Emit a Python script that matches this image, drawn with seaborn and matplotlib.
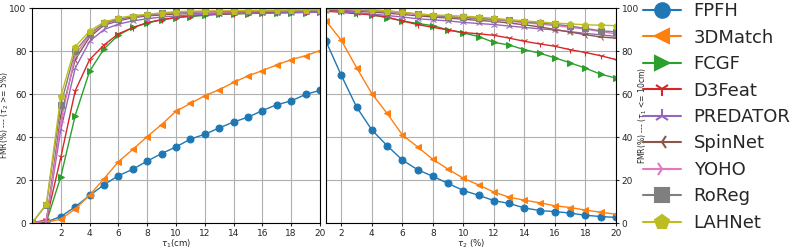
import numpy as np
import pandas as pd
import matplotlib
matplotlib.use("Agg")
import matplotlib.pyplot as plt
import seaborn as sns

# data
methods = ["FPFH", "3DMatch", "FCGF", "D3Feat", "PREDATOR", "SpinNet", "YOHO", "RoReg", "LAHNet"]
markers = ["o", "<", ">", "1", "2", "3", "4", "s", "p"]

tau1 = list(range(0, 21))
tau2 = list(range(1, 21))

fmr_tau1 = {
    "FPFH": [0, 0.5, 3, 7.5, 12.8, 17.8, 22, 25, 28.8, 32.3, 35.4, 39, 41.3, 44.2, 47, 49.2, 52.3, 55, 56.8, 59.8, 61.7],
    "3DMatch": [0, 0.3, 1.8, 6.5, 13, 20.6, 28.5, 34.2, 40.2, 45.8, 52, 55.6, 59.2, 62, 65.4, 68.4, 70.9, 73.5, 76, 77.8, 80.2],
    "FCGF": [0, 0.5, 21.5, 50, 70.6, 81, 87.4, 91, 93, 94.5, 95.5, 96, 96.6, 97, 97.2, 97.4, 97.6, 97.7, 97.8, 97.9, 98],
    "D3Feat": [0, 1.5, 30.5, 61.5, 76, 82.8, 88, 90.8, 93.2, 94.6, 95.6, 96.4, 96.8, 97.2, 97.4, 97.6, 97.8, 97.9, 98, 98.1, 98.2],
    "PREDATOR": [0, 1, 43.5, 72, 84.5, 90, 92.5, 94, 95, 95.8, 96.3, 96.7, 97, 97.3, 97.5, 97.6, 97.7, 97.8, 97.9, 98, 98],
    "SpinNet": [0, 1, 50, 76, 86.5, 92, 94, 95.5, 96.3, 96.8, 97.2, 97.5, 97.7, 97.9, 98, 98.1, 98.2, 98.3, 98.4, 98.5, 98.5],
    "YOHO": [0, 1, 47, 78, 87.5, 92.5, 94.5, 96, 96.7, 97.3, 97.6, 97.8, 98, 98.1, 98.2, 98.3, 98.4, 98.5, 98.6, 98.7, 98.8],
    "RoReg": [0, 8.5, 55, 80, 88, 93, 94.8, 96, 96.8, 97.5, 98, 98.2, 98.4, 98.5, 98.6, 98.7, 98.8, 98.8, 98.9, 99, 99],
    "LAHNet": [0, 8.8, 59, 82, 89.3, 93.5, 95.3, 96.5, 97, 97.8, 98.3, 98.5, 98.6, 98.7, 98.8, 98.9, 99, 99, 99.1, 99.1, 99.2],
}

fmr_tau2 = {
    "FPFH": [84.5, 68.7, 54, 43.3, 36, 29.3, 24.8, 21.7, 18.4, 15.1, 12.9, 10.4, 9.1, 7, 5.8, 5.3, 4.6, 3.6, 3, 2.6],
    "3DMatch": [94, 85, 72.3, 60.2, 51, 41, 35.4, 29.6, 25, 20.8, 17.7, 14.4, 12, 10.6, 9.4, 8, 7.2, 6, 5, 4.1],
    "FCGF": [99, 98.5, 97.8, 96.8, 95.5, 94, 92.8, 91.8, 89.8, 88.4, 86.7, 84, 82.8, 80.6, 79, 76.8, 74.5, 72, 69.2, 67.4],
    "D3Feat": [98.5, 98, 97.3, 96.8, 95.8, 94, 92.3, 91, 89.8, 88.6, 88, 87.3, 86, 84.5, 83.3, 82.2, 80.6, 79.3, 77.8, 76],
    "PREDATOR": [99, 98.3, 97.8, 97.2, 96.5, 95.8, 95, 94.5, 94, 93.3, 92.8, 92.3, 91.6, 91, 90.3, 89.8, 89, 88.2, 87.5, 86.8],
    "SpinNet": [99.2, 99, 98.5, 98.1, 97.6, 97, 96.4, 95.8, 95.3, 94.8, 94.2, 93.8, 93, 92.2, 91.2, 90, 88.8, 87.6, 86.5, 86],
    "YOHO": [99.5, 99.3, 99, 98.6, 98.2, 97.6, 97, 96.4, 95.8, 95.4, 95, 94.5, 93.8, 93.2, 92.5, 91.8, 91, 90.2, 89, 88],
    "RoReg": [99.8, 99.5, 99.3, 99, 98.6, 98, 97.2, 96.5, 96, 95.6, 95.2, 94.8, 94.2, 93.6, 93, 92.4, 91.6, 90.5, 89.4, 88.9],
    "LAHNet": [99.8, 99.6, 99.4, 99.2, 98.8, 98, 97.3, 96.8, 96.5, 96.2, 95.8, 95.2, 94.6, 94, 93.5, 93, 92.6, 92.2, 92, 91.8],
}

sns.set_theme(style="whitegrid", rc={
    "axes.edgecolor": "black",
    "axes.linewidth": 0.8,
    "grid.color": "#b0b0b0",
    "grid.linewidth": 0.8,
    "xtick.bottom": True,
    "ytick.left": True,
    "xtick.major.size": 2.5,
    "ytick.major.size": 2.5,
    "xtick.major.width": 0.8,
    "ytick.major.width": 0.8,
})
plt.rcParams["font.family"] = ["DejaVu Sans"]

palette = sns.color_palette("tab10", 9)

fig = plt.figure(figsize=(7.93, 2.49), dpi=100)
ax1 = fig.add_axes([32 / 793, 26 / 249, 288 / 793, 215 / 249])
ax2 = fig.add_axes([326 / 793, 26 / 249, 290 / 793, 215 / 249])

for i, m in enumerate(methods):
    sns.lineplot(x=tau1, y=fmr_tau1[m], ax=ax1, color=palette[i], marker=markers[i],
                 markersize=5, linewidth=1, markeredgecolor=palette[i], legend=False)
    sns.lineplot(x=tau2, y=fmr_tau2[m], ax=ax2, color=palette[i], marker=markers[i],
                 markersize=5, linewidth=1, markeredgecolor=palette[i], legend=False)

ax1.set_xlim(0, 20)
ax1.set_ylim(0, 100)
ax1.set_xticks(range(2, 21, 2))
ax1.set_xlabel(r"$\tau_1$(cm)", fontsize=6.2, labelpad=0)
ax1.set_ylabel(r"FMR(%) --- ($\tau_2$ >= 5%)", fontsize=5.5)
ax1.yaxis.set_label_coords(-0.072, 0.5)

ax2.set_xlim(1, 20)
ax2.set_ylim(0, 100)
ax2.set_xticks(range(2, 21, 2))
ax2.yaxis.tick_right()
ax2.yaxis.set_label_position("right")
ax2.set_xlabel(r"$\tau_2$ (%)", fontsize=6.2, labelpad=0)
ax2.set_ylabel(r"FMR(%) --- ($\tau_1$ <= 10cm)", fontsize=5.5)
ax2.yaxis.set_label_coords(1.072, 0.5)

for ax in (ax1, ax2):
    ax.tick_params(labelsize=6.5, pad=1.5)

handles = []
for i, m in enumerate(methods):
    h, = ax1.plot([], [], color=palette[i], marker=markers[i], markersize=10.5,
                  markeredgewidth=1.5, linewidth=1.5, label=m)
    handles.append(h)
fig.legend(handles=handles, labels=methods, loc="center left", bbox_to_anchor=(643 / 793, 1 - 117 / 249),
           frameon=False, fontsize=13, handlelength=2.1, handletextpad=0.7, labelspacing=0.47,
           borderaxespad=0, borderpad=0)

fig.savefig("out.png", dpi=100)
